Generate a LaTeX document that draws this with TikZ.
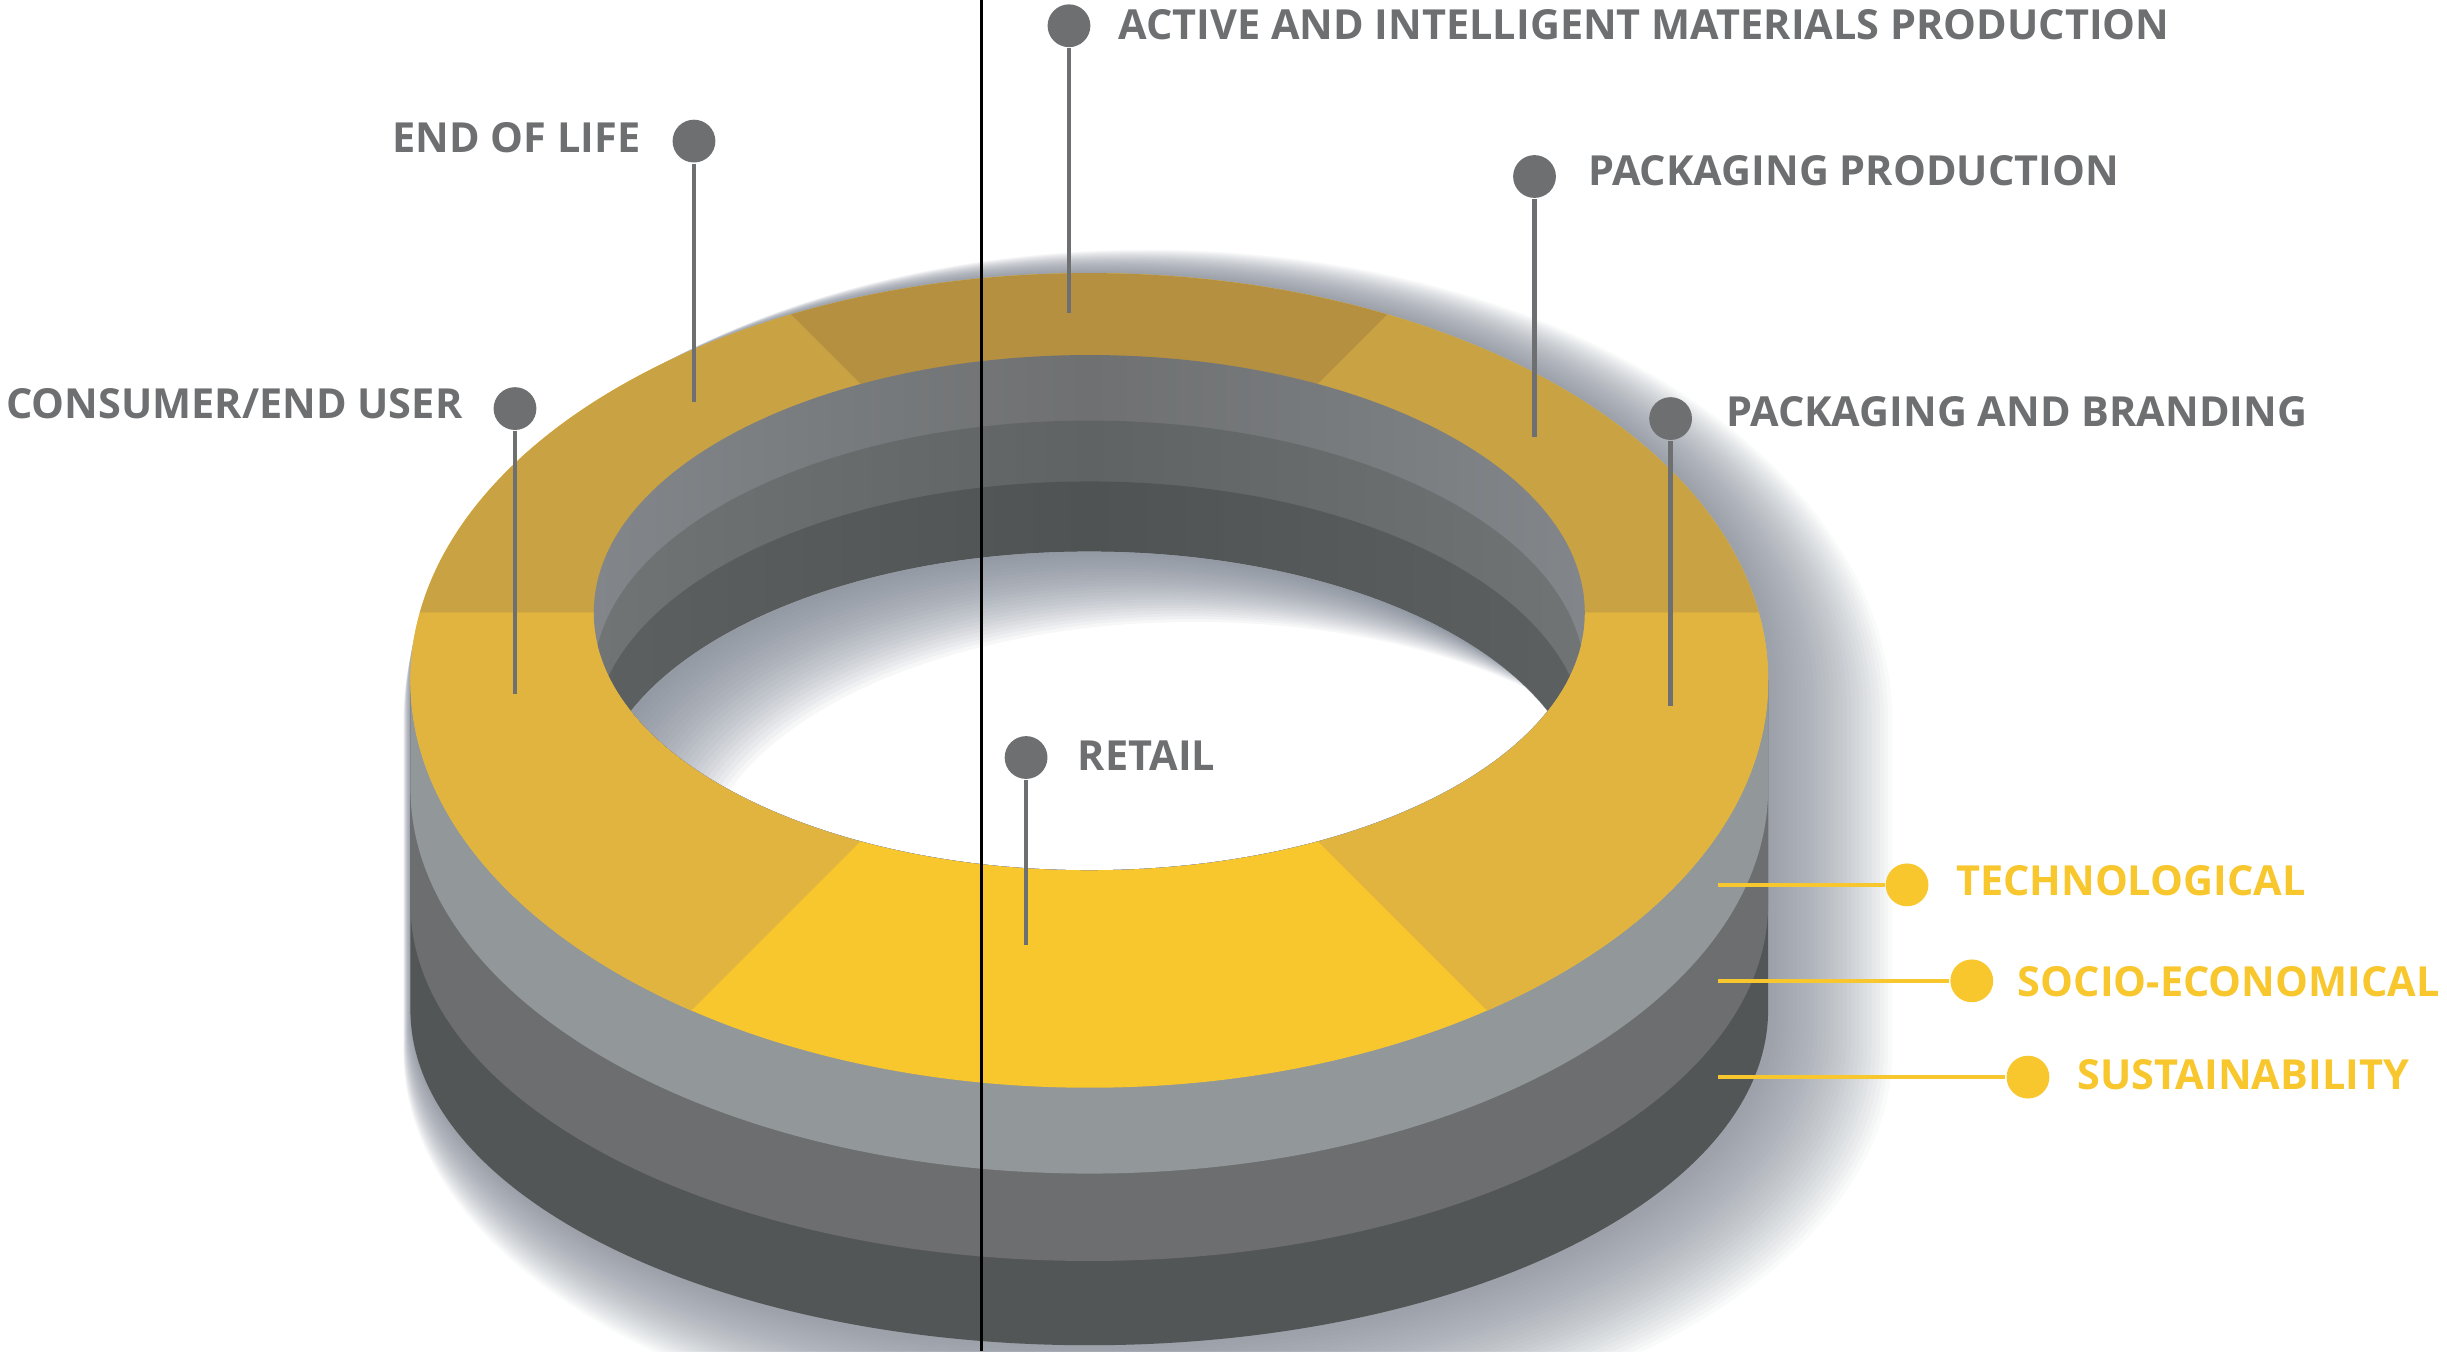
\documentclass[tikz,border=0pt]{standalone}
\usepackage{fontspec}
\setmainfont{Open Sans}

\definecolor{pingray}{HTML}{6D6F71}
\definecolor{pinyellow}{HTML}{F8C62D}
\definecolor{topback}{HTML}{B59040}
\definecolor{topside}{HTML}{C9A243}
\definecolor{toplow}{HTML}{E1B43F}
\definecolor{topfront}{HTML}{F8C62D}
\definecolor{walllight}{HTML}{929799}
\definecolor{wallmid}{HTML}{6D6E70}
\definecolor{walldark}{HTML}{535657}
\definecolor{innera}{HTML}{6E7071}
\definecolor{inneraedge}{HTML}{82868A}
\definecolor{innerb}{HTML}{606364}
\definecolor{innerbedge}{HTML}{707475}
\definecolor{innerc}{HTML}{4F5353}
\definecolor{inneredge}{HTML}{5C6060}
\definecolor{shadowgray}{HTML}{7D8593}

\begin{document}
\begin{tikzpicture}[x=0.01cm,y=-0.01cm,
	pindot/.style={circle,fill=#1,minimum size=0.274cm,inner sep=0pt},
	stem/.style={draw=#1,line width=0.85pt},
	pintext/.style={anchor=base west,text=#1,inner sep=0pt,
		font=\bfseries\fontsize{7.55}{9}\selectfont}]
		\useasboundingbox (0,0) rectangle (1568,866);
		\fill[white] (0,0) rectangle (1568,866);
		
		% soft shadow under the ring
		\foreach \i in {1,...,30}{
			\pgfmathsetmacro{\g}{1.4*\i}
			\pgfmathsetmacro{\sx}{1.25*\i}
			\pgfmathsetmacro{\sy}{0.9*\i}
			\fill[shadowgray,opacity=0.04] ({263-\g+\sx},{436+\sy})
				arc[start angle=180,end angle=360,x radius={435+\g},y radius={261+\g}]
				-- ({1133+\g+\sx},{647+\sy})
				arc[start angle=0,end angle=180,x radius={435+\g},y radius={215+\g}] -- cycle;
		}
		
		% outer wall, three layers
		\fill[walldark] (263,436) -- (263,647)
			arc[start angle=180,end angle=0,x radius=435,y radius=215] -- (1133,436) -- cycle;
		\fill[wallmid] (263,436) -- (263,579)
			arc[start angle=180,end angle=0,x radius=435,y radius=229] -- (1133,436) -- cycle;
		\fill[walllight] (263,436) -- (263,505)
			arc[start angle=180,end angle=0,x radius=435,y radius=247] -- (1133,436) -- cycle;
		
		% top face, six sectors
		\begin{scope}
			\clip (698,436) ellipse [x radius=435,y radius=261];
			\fill[topfront] (263,175) rectangle (1133,697);
			\fill[toplow] (698,392.5) -- (98,992.5) -- (98,392.5) -- cycle;
			\fill[toplow] (698,392.5) -- (1298,992.5) -- (1298,392.5) -- cycle;
			\fill[topside] (698,392.5) -- (98,392.5) -- (98,-207.5) -- cycle;
			\fill[topside] (698,392.5) -- (1298,392.5) -- (1298,-207.5) -- cycle;
			\fill[topback] (698,392.5) -- (98,-207.5) -- (1298,-207.5) -- cycle;
		\end{scope}
		
		% the hole
		\begin{scope}
			\clip (698,392.5) ellipse [x radius=317.5,y radius=165];
			\shade[left color=inneraedge,right color=inneraedge,middle color=innera]
				(698,392.5) ellipse [x radius=317.5,y radius=165];
			\shade[left color=innerbedge,right color=innerbedge,middle color=innerb]
				(698,434.5) ellipse [x radius=317.5,y radius=165];
			\shade[left color=inneredge,right color=inneredge,middle color=innerc]
				(698,473.5) ellipse [x radius=317.5,y radius=165];
			\fill[white] (698,518.5) ellipse [x radius=317.5,y radius=165];
			\clip (698,518.5) ellipse [x radius=317.5,y radius=165];
			\foreach \s in {3,6,...,75}
				\fill[shadowgray,opacity=0.06,even odd rule]
					(698,518.5) ellipse [x radius=317.5,y radius=165]
					({698+0.9*\s},{518.5+0.6*\s}) ellipse [x radius=317.5,y radius=165];
		\end{scope}
		
		% grey pins
		\node[pindot=pingray] (act) at (685,16.5) {};
		\node[pindot=pingray] (eol) at (444.7,90.4) {};
		\node[pindot=pingray] (cons) at (330,261.8) {};
		\node[pindot=pingray] (pprod) at (983.3,113.1) {};
		\node[pindot=pingray] (pbrand) at (1070.5,268.2) {};
		\node[pindot=pingray] (retail) at (657.5,485.4) {};
		\coordinate (act-end) at (685,200.5);
		\coordinate (eol-end) at (444.7,257.8);
		\coordinate (cons-end) at (330,444.6);
		\coordinate (pprod-end) at (983.3,280.3);
		\coordinate (pbrand-end) at (1070.5,452.1);
		\coordinate (retail-end) at (657.5,605.5);
		\foreach \p in {act,eol,cons,pprod,pbrand,retail}
			\draw[stem=pingray] (\p) -- (\p-end);
		
		\node[pintext=pingray] (act-lbl) at (716,25.5) {ACTIVE AND INTELLIGENT MATERIALS PRODUCTION};
		\node[pintext=pingray,anchor=base east] (eol-lbl) at (411,98) {END OF LIFE};
		\node[pintext=pingray,anchor=base east] (cons-lbl) at (297,268) {CONSUMER/END USER};
		\node[pintext=pingray] (pprod-lbl) at (1017,118.7) {PACKAGING PRODUCTION};
		\node[pintext=pingray] (pbrand-lbl) at (1105.5,273) {PACKAGING AND BRANDING};
		\node[pintext=pingray] (retail-lbl) at (690,493.9) {RETAIL};
		
		% yellow pins
		\node[pindot=pinyellow] (tech) at (1222,567) {};
		\node[pindot=pinyellow] (socio) at (1263.5,628.5) {};
		\node[pindot=pinyellow] (sust) at (1299.5,690.2) {};
		\coordinate (tech-end) at (1101,567);
		\coordinate (socio-end) at (1101,628.5);
		\coordinate (sust-end) at (1101,690.2);
		\foreach \p in {tech,socio,sust}
			\draw[stem=pinyellow] (\p-end) -- (\p);
		
		\node[pintext=pinyellow] (tech-lbl) at (1252.7,573.5) {TECHNOLOGICAL};
		\node[pintext=pinyellow,anchor=base east] (socio-lbl) at (1564,638.5) {SOCIO-ECONOMICAL};
		\node[pintext=pinyellow] (sust-lbl) at (1330.7,698) {SUSTAINABILITY};
		
		\draw[line width=0.43pt] (629,0) -- (629,866);
\end{tikzpicture}
\end{document}
